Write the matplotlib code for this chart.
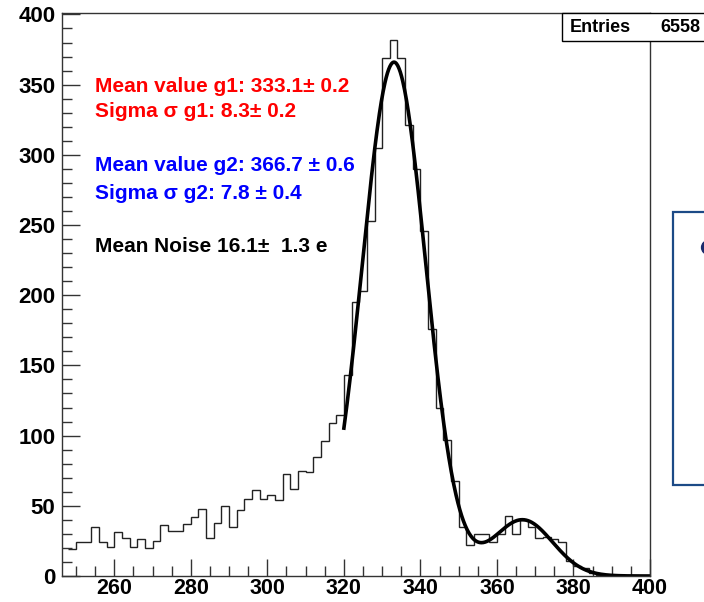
import numpy as np
import matplotlib
matplotlib.use("Agg")
import matplotlib.pyplot as plt
from matplotlib.lines import Line2D
from matplotlib.patches import Rectangle
from matplotlib.ticker import MultipleLocator

plt.rcParams['font.family'] = ['Liberation Sans', 'DejaVu Sans']
plt.rcParams['font.weight'] = 'bold'

# histogram: 2-unit bins starting at 248
bin_start = 248
bin_width = 2
counts = [19, 24, 24, 35, 24, 21, 31, 27, 21, 26,
          20, 25, 36, 32, 32, 37, 42, 48, 27, 38,
          50, 35, 47, 55, 61, 55, 58, 54, 73, 62,
          75, 74, 85, 96, 109, 115,
          143, 195, 203, 253, 305, 369, 382, 369, 321, 290,
          246, 176, 120, 97, 68, 35, 22, 30, 30, 24,
          30, 43, 30, 40, 35, 27, 28, 26, 24, 11,
          7, 6, 2, 1, 1, 0, 0, 0, 0, 0]
n_entries = 6558

# double gaussian fit results
fit_range = (320, 400)
amp_g1, mean_g1, sigma_g1 = 366.0, 333.1, 8.3
amp_g2, mean_g2, sigma_g2 = 40.0, 366.7, 7.8

labels = [
    ("Mean value g1: 333.1\u00b1 0.2", "#ff0000", 91.7),
    ("Sigma \u03c3 g1: 8.3\u00b1 0.2", "#ff0000", 117.0),
    ("Mean value g2: 366.7 \u00b1 0.6", "#0000ff", 170.7),
    ("Sigma \u03c3 g2: 7.8 \u00b1 0.4", "#0000ff", 199.0),
    ("Mean Noise 16.1\u00b1  1.3 e", "#000000", 251.7),
]

W, H = 704, 602


def fx(px):
    return px / W


def fy(py):
    return 1 - py / H


fig = plt.figure(figsize=(W / 100, H / 100), dpi=100)
ax = fig.add_axes([fx(61.7), fy(576), fx(650) - fx(61.7), fy(13.3) - fy(576)])

edges = bin_start + bin_width * np.arange(len(counts) + 1)
ax.stairs(counts, edges, baseline=None, color='#222222', lw=1.0)

xf = np.linspace(fit_range[0], fit_range[1], 500)
yf = (amp_g1 * np.exp(-0.5 * ((xf - mean_g1) / sigma_g1) ** 2)
      + amp_g2 * np.exp(-0.5 * ((xf - mean_g2) / sigma_g2) ** 2))
ax.plot(xf, yf, color='black', lw=2.6)

ax.set_xlim(246.25, 400)
ax.set_ylim(0, 400.8)

ax.xaxis.set_major_locator(MultipleLocator(20))
ax.xaxis.set_minor_locator(MultipleLocator(5))
ax.yaxis.set_major_locator(MultipleLocator(50))
ax.yaxis.set_minor_locator(MultipleLocator(10))
ax.tick_params(which='both', direction='in', color='#333333', width=1.0)
ax.tick_params(axis='x', which='major', length=12.2, pad=1.2, labelsize=15.5)
ax.tick_params(axis='x', which='minor', length=7.2)
ax.tick_params(axis='y', which='major', length=13.0, pad=4.6, labelsize=16)
ax.tick_params(axis='y', which='minor', length=7.2)
for lab in ax.get_xticklabels() + ax.get_yticklabels():
    lab.set_fontweight('bold')
for sp in ax.spines.values():
    sp.set_color('#333333')
    sp.set_linewidth(1.0)

for txt, col, base in labels:
    fig.text(fx(95), fy(base), txt, color=col, fontsize=15,
             fontweight='bold', va='baseline', ha='left')

# stats box in the top right corner
fig.add_artist(Rectangle((fx(561.7), fy(40.7)), fx(730) - fx(561.7),
                         fy(13.3) - fy(40.7), transform=fig.transFigure,
                         facecolor='white', edgecolor='black', lw=1.0,
                         zorder=5))
fig.text(fx(570), fy(32), "Entries", fontsize=13, fontweight='bold',
         va='baseline', ha='left', zorder=6)
fig.text(fx(660), fy(32), str(n_entries), fontsize=13, fontweight='bold',
         va='baseline', ha='left', zorder=6)

# legend pad on the right edge
fig.add_artist(Rectangle((fx(673.3), fy(485)), fx(730) - fx(673.3),
                         fy(212.3) - fy(485), transform=fig.transFigure,
                         facecolor='white', edgecolor='#1c4a86', lw=1.6,
                         zorder=5))
fig.add_artist(Line2D([fx(707.5)], [fy(247)], transform=fig.transFigure,
                      marker='o', ms=10, color='#1a2a6c', zorder=6))

fig.savefig("out.png", dpi=100)
